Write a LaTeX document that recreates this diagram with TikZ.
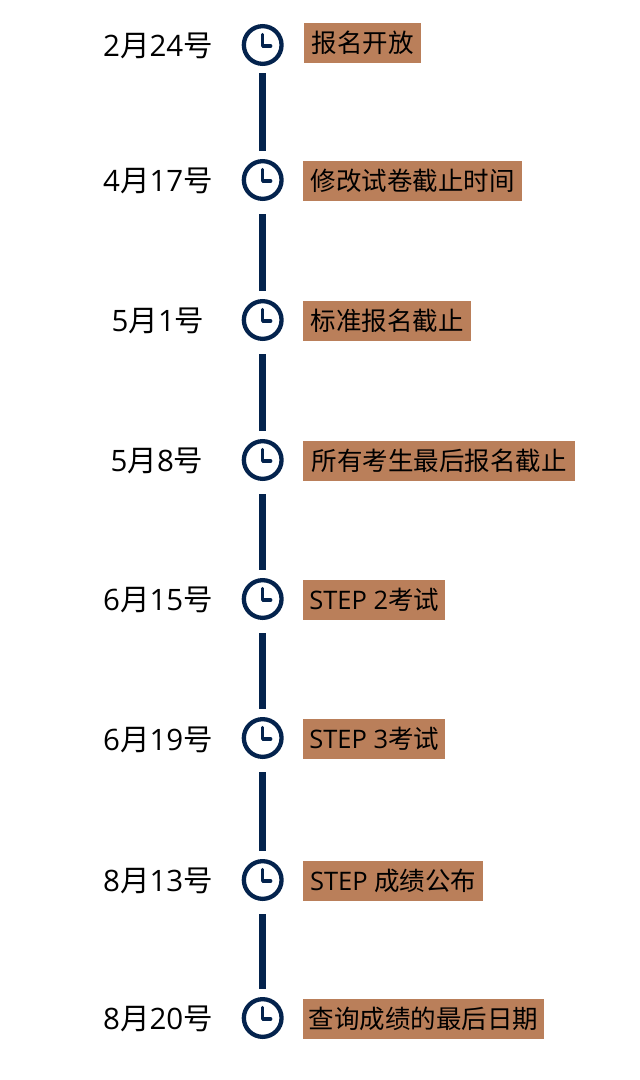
\documentclass[tikz,border=0pt]{standalone}
\usepackage{fontspec}
\usepackage{xcolor}
\setmainfont{Open Sans}
\newfontfamily\cjk{Noto Sans CJK SC}
\usetikzlibrary{positioning}
\definecolor{clocknavy}{HTML}{04234D}
\definecolor{taskbrown}{HTML}{BA7F5A}
\definecolor{inkblack}{HTML}{000000}
\tikzset{
  date/.style={text=inkblack,inner sep=0pt,font=\fontsize{29.5}{29.5}\selectfont},
  clock/.style={circle,draw=clocknavy,line width=4.3pt,minimum size=37.7pt,inner sep=0pt,
    path picture={\draw[clocknavy,line width=3.3pt,line cap=round,line join=round]
      ([yshift=10.5pt]path picture bounding box.center) -- ([yshift=-1pt]path picture bounding box.center) -- ([xshift=8pt,yshift=-1pt]path picture bounding box.center);}},
  task/.style={anchor=west,fill=taskbrown,text=inkblack,inner sep=0pt,minimum height=40pt,align=center,font=\fontsize{25.5}{25.5}\selectfont},
  link/.style={draw=clocknavy,line width=6.5pt,shorten <=13pt,shorten >=8.5pt}
}
\begin{document}
\begin{tikzpicture}[x=1pt,y=-1pt]
\useasboundingbox (0,0) rectangle (640,1080);
% dates
\node[date] (date1) at (158,45.5) {2{\cjk 月}24{\cjk 号}};
\node[date] (date2) at (158,180.5) {4{\cjk 月}17{\cjk 号}};
\node[date] (date3) at (158,320.5) {5{\cjk 月}1{\cjk 号}};
\node[date] (date4) at (157,460.5) {5{\cjk 月}8{\cjk 号}};
\node[date] (date5) at (158,599.5) {6{\cjk 月}15{\cjk 号}};
\node[date] (date6) at (158,739.5) {6{\cjk 月}19{\cjk 号}};
\node[date] (date7) at (158,880.5) {8{\cjk 月}13{\cjk 号}};
\node[date] (date8) at (158,1018.5) {8{\cjk 月}20{\cjk 号}};
% clocks
\node[clock] (clock1) at (262.7,45) {};
\node[clock] (clock2) at (262.7,180) {};
\node[clock] (clock3) at (262.7,320) {};
\node[clock] (clock4) at (262.7,460) {};
\node[clock] (clock5) at (262.7,599) {};
\node[clock] (clock6) at (262.7,738) {};
\node[clock] (clock7) at (262.7,880) {};
\node[clock] (clock8) at (262.7,1018) {};
% tasks
\node[task,minimum width=117pt] (task1) at (304,43) {\cjk 报名开放};
\node[task,minimum width=219pt] (task2) at (303,181) {\cjk 修改试卷截止时间};
\node[task,minimum width=168pt] (task3) at (303,321) {\cjk 标准报名截止};
\node[task,minimum width=272pt] (task4) at (303,461) {\cjk 所有考生最后报名截止};
\node[task,minimum width=142pt] (task5) at (303,600) {STEP 2{\cjk 考试}};
\node[task,minimum width=142pt] (task6) at (303,739) {STEP 3{\cjk 考试}};
\node[task,minimum width=180pt] (task7) at (303,881) {STEP {\cjk 成绩公布}};
\node[task,minimum width=241pt] (task8) at (303,1019) {\cjk 查询成绩的最后日期};
% links
\draw[link,shorten <=7pt] (clock1) -- (clock2);
\draw[link] (clock2) -- (clock3);
\draw[link] (clock3) -- (clock4);
\draw[link] (clock4) -- (clock5);
\draw[link] (clock5) -- (clock6);
\draw[link] (clock6) -- (clock7);
\draw[link] (clock7) -- (clock8);
\end{tikzpicture}
\end{document}
